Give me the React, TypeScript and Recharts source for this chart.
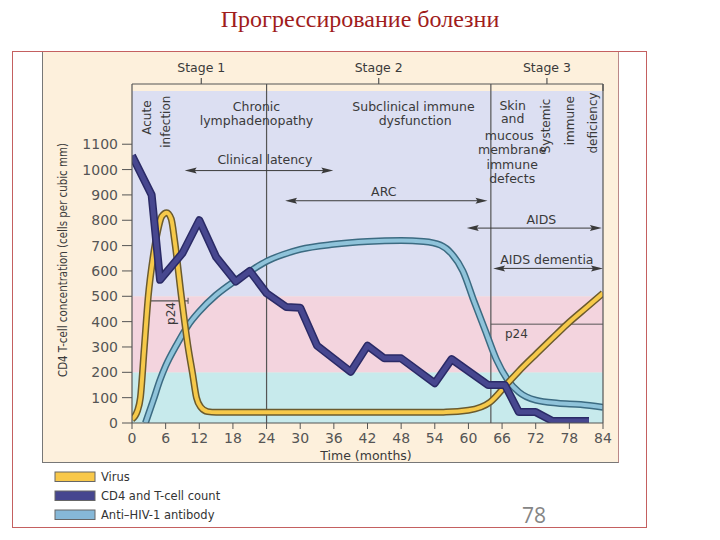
import React from 'react';
import { ComposedChart, Line, XAxis, YAxis, ReferenceArea, ReferenceLine } from 'recharts';

// ---------- data ----------
const monthTicks = [0, 6, 12, 18, 24, 30, 36, 42, 48, 54, 60, 66, 72, 78, 84];
const countTicks = [0, 100, 200, 300, 400, 500, 600, 700, 800, 900, 1000, 1100];

const virusMonths = [0, 1, 1.5, 2.2, 2.9, 3.8, 4.6, 5.3, 6.2, 7.0, 7.6, 8.8, 10, 10.8, 11.5, 12.3, 13.5, 15, 24, 36, 48, 56, 60, 63.9, 67, 69, 72.2, 75, 77.6, 81, 84];
const virusLevel = [15, 50, 100, 300, 500, 660, 760, 815, 830, 805, 720, 500, 300, 195, 100, 62, 45, 42, 42, 42, 42, 43, 50, 83, 157, 205, 275, 335, 390, 455, 512];

const cd4Months = [0, 3.5, 5, 9, 12, 15, 18.5, 21, 24, 27.5, 30, 33, 39, 42, 45, 48, 54, 57, 63.5, 66.5, 69, 72, 75, 81.5];
const cd4Count = [1055, 900, 565, 670, 800, 655, 558, 600, 512, 458, 455, 305, 202, 305, 255, 255, 157, 252, 150, 150, 43, 43, 8, 8];

const antibodyMonths = [2.4, 3.8, 5, 6, 8, 10, 12, 15, 18, 21, 24, 27, 30, 36, 42, 48, 52, 55, 57, 59, 61, 63, 65, 67, 69, 72, 76, 80, 84];
const antibodyLevel = [0, 90, 170, 225, 310, 385, 440, 505, 555, 598, 638, 665, 685, 705, 716, 720, 716, 702, 668, 600, 480, 365, 250, 170, 122, 90, 78, 73, 62];

const bandEdges = [0, 200, 500, 1310];
const stageNames = ['Stage 1', 'Stage 2', 'Stage 3'];
const stageBounds = [0, 24, 64, 84];
const seriesNames = ['Virus', 'CD4 and T-cell count', 'Anti\u2013HIV-1 antibody'];

// ---------- layout / style ----------
const W = 720, H = 540;
const M = { top: 91, right: 117, bottom: 87, left: 72 };
const Y_W = 60, X_H = 30;
const X_MAX = 84, Y_MAX = 1310;
const plotL = M.left + Y_W;
const plotT = M.top;
const plotW = W - plotL - M.right;
const plotH = H - M.top - M.bottom - X_H;
const sx = (m: number) => plotL + (m / X_MAX) * plotW;
const sy = (v: number) => plotT + plotH - (v / Y_MAX) * plotH;

const bandColors = ['#c7eaec', '#f3d4de', '#dcdff2'];
const FONT = 'DejaVu Sans';
const INK = '#3a3a3a';
const LINE = '#555';

const virus = virusMonths.map((m, i) => ({ m, v: virusLevel[i] }));
const cd4 = cd4Months.map((m, i) => ({ m, v: cd4Count[i] }));
const antibody = antibodyMonths.map((m, i) => ({ m, v: antibodyLevel[i] }));

const legendColors = ['#f8c84a', '#46468f', '#86b8d8'];

function Arrow({ m1, m2, v }: { m1: number; m2: number; v: number }) {
  const x1 = sx(m1), x2 = sx(m2), y = sy(v);
  return (
    <g>
      <line x1={x1 + 6} x2={x2 - 6} y1={y} y2={y} stroke={INK} strokeWidth={1} />
      <polygon points={`${x1},${y} ${x1 + 12},${y - 3} ${x1 + 10},${y} ${x1 + 12},${y + 3}`} fill={INK} />
      <polygon points={`${x2},${y} ${x2 - 12},${y - 3} ${x2 - 10},${y} ${x2 - 12},${y + 3}`} fill={INK} />
    </g>
  );
}

function T({ m, v, children, size = 12.5, rotate = false, anchor = 'middle' }: any) {
  const x = sx(m), y = sy(v);
  return (
    <text
      x={x}
      y={y}
      textAnchor={anchor}
      dominantBaseline="central"
      fontFamily={FONT}
      fontSize={size}
      fill={INK}
      transform={rotate ? `rotate(-90 ${x} ${y})` : undefined}
    >
      {children}
    </text>
  );
}

function Overlay() {
  const bracketY = 84;
  const axisY = sy(0);
  return (
    <svg width={W} height={H} style={{ position: 'absolute', left: 0, top: 0, pointerEvents: 'none' }}>
      {/* frame right side */}
      <line x1={sx(84)} x2={sx(84)} y1={bracketY} y2={axisY} stroke={LINE} strokeWidth={1.2} />
      {/* stage bracket */}
      <line x1={sx(0)} x2={sx(84)} y1={bracketY} y2={bracketY} stroke={LINE} strokeWidth={1.2} />
      {stageBounds.map((b) => (
        <line key={b} x1={sx(b)} x2={sx(b)} y1={bracketY} y2={plotT} stroke={LINE} strokeWidth={1.2} />
      ))}
      {stageNames.map((s, i) => {
        const c = sx((stageBounds[i] + stageBounds[i + 1]) / 2) + (i === 0 ? 2 : 0);
        return (
          <g key={s}>
            <line x1={c} x2={c} y1={bracketY - 6} y2={bracketY} stroke={LINE} strokeWidth={1.2} />
            <text x={c} y={67} textAnchor="middle" dominantBaseline="central" fontFamily={FONT} fontSize={12.5} fill={INK}>
              {s}
            </text>
          </g>
        );
      })}

      {/* phase annotations */}
      <T m={2.6} v={1205} rotate size={12}>Acute</T>
      <T m={6.0} v={1189} rotate size={12}>infection</T>
      <T m={22.2} v={1250}>Chronic</T>
      <T m={22.2} v={1193}>lymphadenopathy</T>
      <T m={50.2} v={1250}>Subclinical immune</T>
      <T m={50.5} v={1195}>dysfunction</T>
      <T m={67.9} v={1253}>Skin</T>
      <T m={67.9} v={1200}>and</T>
      <T m={67.3} v={1136}>mucous</T>
      <T m={67.8} v={1078}>membrane</T>
      <T m={67.8} v={1020}>immune</T>
      <T m={67.8} v={964}>defects</T>
      <T m={73.9} v={1172} rotate size={12}>Systemic</T>
      <T m={78.1} v={1193} rotate size={12}>immune</T>
      <T m={82.2} v={1184} rotate size={12}>deficiency</T>

      <T m={23.7} v={1040}>Clinical latency</T>
      <Arrow m1={9.4} m2={35.9} v={996} />
      <T m={44.9} v={913}>ARC</T>
      <Arrow m1={27.3} m2={63.4} v={877} />
      <T m={73} v={803}>AIDS</T>
      <Arrow m1={59.7} m2={83.8} v={769} />
      <T m={74} v={645}>AIDS dementia</T>
      <Arrow m1={64.4} m2={84} v={610} />

      <T m={6.9} v={432} rotate size={12}>p24</T>
      <T m={66.5} v={352} anchor="start" size={12}>p24</T>

      {/* axis titles */}
      <text x={366} y={455} textAnchor="middle" dominantBaseline="central" fontFamily={FONT} fontSize={12.5} fill={INK}>
        Time (months)
      </text>
      <text
        x={62}
        y={260}
        textAnchor="middle"
        dominantBaseline="central"
        fontFamily={FONT}
        fontSize={12.5}
        fill={INK}
        textLength={234}
        lengthAdjust="spacingAndGlyphs"
        transform="rotate(-90 62 260)"
      >
        CD4 T-cell concentration (cells per cubic mm)
      </text>

      {/* legend */}
      {seriesNames.map((n, i) => {
        const y = [472, 491, 510][i];
        return (
          <g key={n}>
            <rect x={55} y={y} width={40} height={9.5} fill={legendColors[i]} stroke="#666" strokeWidth={1} />
            <text x={101} y={y + 4.5} dominantBaseline="central" fontFamily={FONT} fontSize={11.5} fill="#333">
              {n}
            </text>
          </g>
        );
      })}

      <text x={534} y={523} textAnchor="middle" fontFamily="Open Sans" fontSize={21} fill="#858585">
        78
      </text>
    </svg>
  );
}

export default function App() {
  return (
    <div style={{ position: 'absolute', left: 0, top: 0, width: W, height: H, background: '#fff', overflow: 'hidden' }}>
      <div
        style={{
          position: 'absolute',
          left: 0,
          top: 4,
          width: W,
          textAlign: 'center',
          fontFamily: '"Liberation Serif", serif',
          fontSize: 24,
          color: '#a01c1c',
          lineHeight: '30px',
        }}
      >
        Прогрессирование болезни
      </div>
      <div
        style={{
          position: 'absolute',
          left: 12,
          top: 51,
          width: 635,
          height: 477,
          border: '1.5px solid #c46060',
          boxSizing: 'border-box',
        }}
      />
      <div
        style={{
          position: 'absolute',
          left: 42,
          top: 52,
          width: 577,
          height: 411,
          background: '#fdf0dc',
          borderLeft: '1px solid #777',
          borderBottom: '1px solid #777',
          borderRight: '1px solid #b88',
          boxSizing: 'border-box',
        }}
      />
      <div style={{ position: 'absolute', left: 0, top: 0 }}>
        <ComposedChart width={W} height={H} margin={M}>
          <XAxis
            dataKey="m"
            type="number"
            domain={[0, X_MAX]}
            ticks={monthTicks}
            height={X_H}
            allowDataOverflow
            tick={{ fontSize: 14, fill: '#555', fontFamily: FONT }}
            tickSize={6}
            tickMargin={4}
            stroke={LINE}
            axisLine={{ stroke: LINE, strokeWidth: 1.2 }}
            tickLine={{ stroke: LINE }}
          />
          <YAxis
            type="number"
            domain={[0, Y_MAX]}
            ticks={countTicks}
            width={Y_W}
            allowDataOverflow
            tick={{ fontSize: 14, fill: '#555', fontFamily: FONT }}
            tickSize={10}
            tickMargin={4}
            axisLine={{ stroke: LINE, strokeWidth: 1.2 }}
            tickLine={{ stroke: LINE }}
          />
          {bandColors.map((c, i) => (
            <ReferenceArea key={c} y1={bandEdges[i]} y2={bandEdges[i + 1]} fill={c} fillOpacity={1} stroke="none" />
          ))}
          <ReferenceLine x={24} stroke={LINE} strokeWidth={1.2} />
          <ReferenceLine x={64} stroke={LINE} strokeWidth={1.2} />
          <ReferenceLine segment={[{ x: 64, y: 390 }, { x: 84, y: 390 }]} stroke={LINE} strokeWidth={1} />
          <ReferenceLine segment={[{ x: 2.6, y: 482 }, { x: 10, y: 482 }]} stroke={LINE} strokeWidth={1.2} />
          <ReferenceLine segment={[{ x: 2.6, y: 470 }, { x: 2.6, y: 494 }]} stroke={LINE} strokeWidth={1} />
          <ReferenceLine segment={[{ x: 10, y: 470 }, { x: 10, y: 494 }]} stroke={LINE} strokeWidth={1} />

          <Line data={antibody} dataKey="v" type="monotone" stroke="#3c6b82" strokeWidth={7} dot={false} activeDot={false} isAnimationActive={false} strokeLinejoin="round" />
          <Line data={antibody} dataKey="v" type="monotone" stroke="#8fc3da" strokeWidth={4} dot={false} activeDot={false} isAnimationActive={false} strokeLinejoin="round" />
          <Line data={virus} dataKey="v" type="monotone" stroke="#6b5b2e" strokeWidth={7} dot={false} activeDot={false} isAnimationActive={false} strokeLinejoin="round" />
          <Line data={virus} dataKey="v" type="monotone" stroke="#f6c94a" strokeWidth={4} dot={false} activeDot={false} isAnimationActive={false} strokeLinejoin="round" />
          <Line data={cd4} dataKey="v" type="linear" stroke="#2a2a66" strokeWidth={8} dot={false} activeDot={false} isAnimationActive={false} strokeLinejoin="round" />
          <Line data={cd4} dataKey="v" type="linear" stroke="#47478f" strokeWidth={5} dot={false} activeDot={false} isAnimationActive={false} strokeLinejoin="round" />
        </ComposedChart>
      </div>
      <Overlay />
    </div>
  );
}
